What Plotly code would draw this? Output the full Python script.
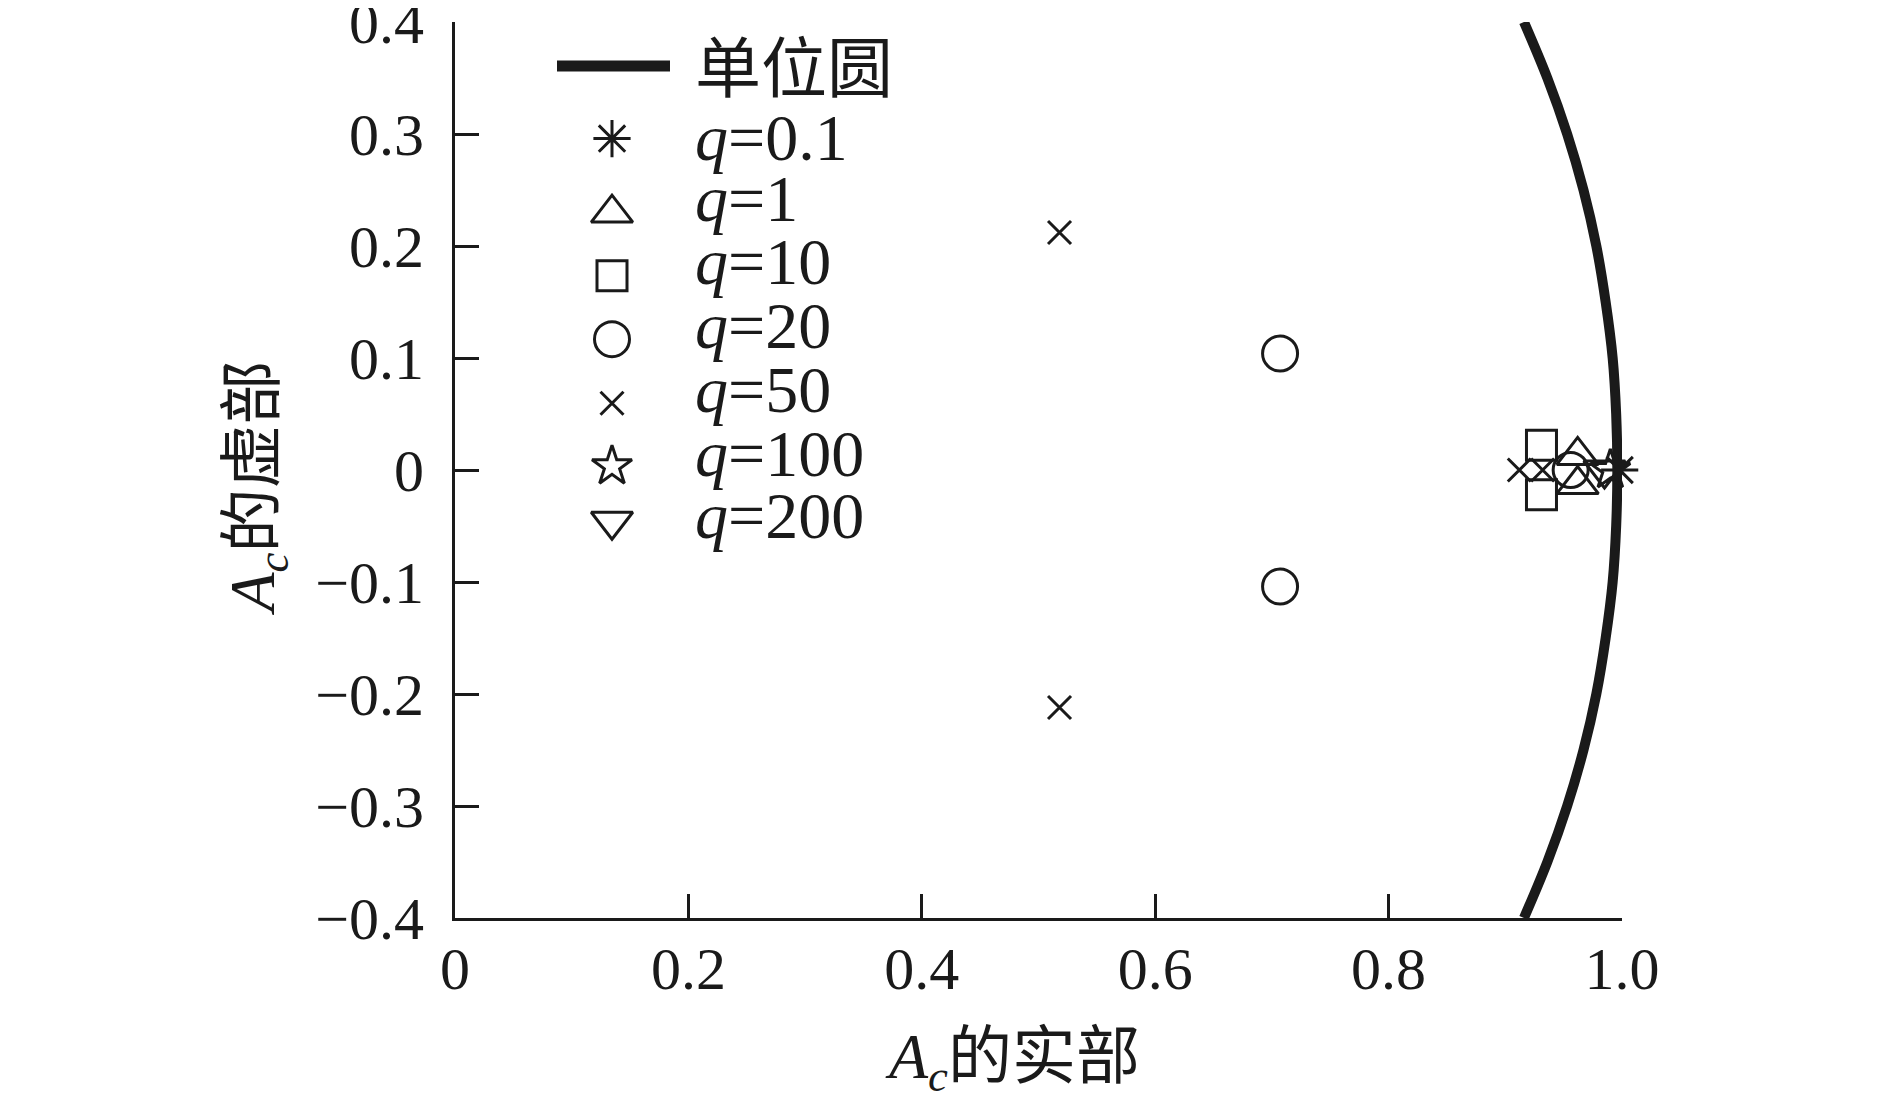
import plotly.graph_objects as go

q_labels = ["0.1", "1", "10", "20", "50", "100", "200"]
re_q01 = [0.998]
im_q01 = [0.0]
re_q1 = [0.962, 0.962]
im_q1 = [0.013, -0.013]
re_q10 = [0.931, 0.931]
im_q10 = [0.022, -0.022]
re_q20 = [0.707, 0.707, 0.956]
im_q20 = [0.104, -0.104, 0.0]
re_q50 = [0.518, 0.518, 0.912, 0.932]
im_q50 = [0.212, -0.212, 0.0, 0.0]
re_q100 = [0.990]
im_q100 = [0.0]
re_q200 = [0.985]
im_q200 = [0.0]

# unit circle as drawn along the right edge of the plot
circle_im = [0.40, 0.35, 0.30, 0.25, 0.20, 0.15, 0.10, 0.05, 0.0,
             -0.05, -0.10, -0.15, -0.20, -0.25, -0.30, -0.35, -0.40]
circle_re = [0.916, 0.936, 0.953, 0.967, 0.978, 0.986, 0.992, 0.995, 0.996,
             0.995, 0.992, 0.986, 0.978, 0.967, 0.953, 0.936, 0.916]

x_ticks = [0, 0.2, 0.4, 0.6, 0.8, 1.0]
x_ticktext = ["0", "0.2", "0.4", "0.6", "0.8", "1.0"]
y_ticks = [-0.4, -0.3, -0.2, -0.1, 0, 0.1, 0.2, 0.3, 0.4]
y_ticktext = ["\u22120.4", "\u22120.3", "\u22120.2", "\u22120.1", "0", "0.1", "0.2", "0.3", "0.4"]

FONT = "Liberation Serif, Noto Sans CJK SC, serif"
INK = "#1a1a1a"

series = [
    (re_q01, im_q01, "asterisk-open", 31),
    (re_q1, im_q1, "triangle-up-open", 36),
    (re_q10, im_q10, "square-open", 30),
    (re_q20, im_q20, "circle-open", 35),
    (re_q50, im_q50, "x-thin-open", 23),
    (re_q100, im_q100, "star-open", 30),
    (re_q200, im_q200, "triangle-down-open", 36),
]

fig = go.Figure()

fig.add_trace(
    go.Scatter(
        x=circle_re,
        y=circle_im,
        mode="lines",
        name="单位圆",
        line=dict(color=INK, width=10, shape="spline"),
        showlegend=False,
        cliponaxis=False,
    )
)

for (xs, ys, sym, size), lab in zip(series, q_labels):
    fig.add_trace(
        go.Scatter(
            x=xs,
            y=ys,
            mode="markers",
            name=f"<i>q</i>={lab}",
            marker=dict(symbol=sym, size=size, color=INK,
                        line=dict(color=INK, width=3)),
            showlegend=False,
            cliponaxis=False,
        )
    )

# hand-made legend on a pixel-scaled overlay axis
# (plotly's own legend caps symbol size at 16px and can't pack rows this tight)
key_rows = [66.5, 139, 213.5, 276, 339.5, 403.5, 466.5, 521.5]
text_rows = [70, 138, 199, 262, 326, 390, 453.5, 516]
key_x, text_x = 612, 693

fig.add_trace(
    go.Scatter(
        x=[557, 670], y=[key_rows[0], key_rows[0]],
        mode="lines", line=dict(color=INK, width=11),
        xaxis="x2", yaxis="y2", showlegend=False, hoverinfo="skip",
    )
)
for i, (xs, ys, sym, size) in enumerate(series):
    fig.add_trace(
        go.Scatter(
            x=[key_x], y=[key_rows[i + 1]],
            mode="markers",
            marker=dict(symbol=sym, size=size, color=INK,
                        line=dict(color=INK, width=3)),
            xaxis="x2", yaxis="y2", showlegend=False, hoverinfo="skip",
        )
    )

legend_text = ["单位圆"] + [f"<i>q</i>={lab}" for lab in q_labels]
for i, txt in enumerate(legend_text):
    fig.add_annotation(
        x=text_x, y=text_rows[i], xref="x2", yref="y2",
        text=txt, showarrow=False, xanchor="left", yanchor="middle",
        font=dict(family=FONT, size=66, color=INK),
    )

# the page body adds an 8px margin, so the figure starts 8px in from the window corner
fig.update_layout(
    width=1873,
    height=1093,
    margin=dict(l=447, r=259, t=14, b=183, autoexpand=False),
    plot_bgcolor="white",
    paper_bgcolor="white",
    font=dict(family=FONT, size=60, color=INK),
    showlegend=False,
    xaxis=dict(
        range=[0, 1.0],
        tickvals=x_ticks,
        ticktext=x_ticktext,
        ticks="inside",
        ticklen=24,
        tickwidth=2.5,
        tickcolor=INK,
        showline=True,
        linewidth=3,
        linecolor=INK,
        showgrid=False,
        zeroline=False,
        ticklabelstandoff=-4,
        ticklabeloverflow="allow",
        title=dict(text="<i>A<sub>c</sub></i>的实部&nbsp;&nbsp;&nbsp;",
                   font=dict(size=64), standoff=58),
        automargin=False,
    ),
    yaxis=dict(
        range=[-0.4, 0.4],
        tickvals=y_ticks,
        ticktext=y_ticktext,
        ticks="inside",
        ticklen=24,
        tickwidth=2.5,
        tickcolor=INK,
        showline=True,
        linewidth=3,
        linecolor=INK,
        showgrid=False,
        zeroline=False,
        ticklabelstandoff=16,
        ticklabeloverflow="allow",
        title=dict(text="<i>A<sub>c</sub></i>的虚部&nbsp;&nbsp;\u2009",
                   font=dict(size=64), standoff=20),
        automargin=False,
    ),
    xaxis2=dict(range=[455, 1622], overlaying="x", visible=False, fixedrange=True),
    yaxis2=dict(range=[918, 22.5], overlaying="y", visible=False, fixedrange=True),
)

fig.write_html("out.html")
